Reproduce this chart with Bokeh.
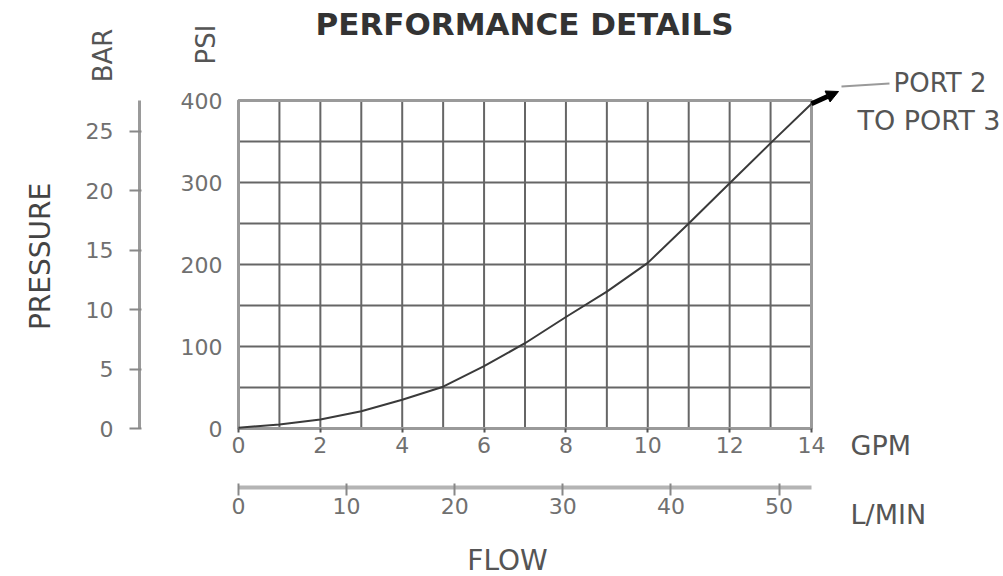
import math
from bokeh.plotting import figure
from bokeh.models import (LinearAxis, Range1d, Label, FixedTicker, Arrow, NormalHead)
from bokeh.embed import file_html
from bokeh.resources import INLINE

# ---------------- data ----------------
gpm = [0, 1, 2, 3, 4, 5, 6, 7, 8, 9, 10, 11, 12, 13, 14]
psi = [1, 5, 11, 21, 35, 51, 76, 104, 136, 167, 202, 250, 299, 348, 396]

gpm_ticks = [0, 2, 4, 6, 8, 10, 12, 14]
psi_ticks = [0, 100, 200, 300, 400]
bar_ticks = [0, 5, 10, 15, 20, 25]
lmin_ticks = [0, 10, 20, 30, 40, 50]
grid_gpm = [0, 1, 2, 3, 4, 5, 6, 7, 8, 9, 10, 11, 12, 13, 14]
grid_psi = [0, 50, 100, 150, 200, 250, 300, 350, 400]

PSI_PER_BAR = 14.5038
LMIN_PER_GPM = 3.78541
GPM_MAX = 14
PSI_MAX = 400

# ---------------- layout ----------------
W, H = 1003, 576
FL, FR, FT, FB = 238, 811, 100, 428   # chart area edges in canvas pixels
FONT = "DejaVu Sans"


def gx(px):
    """canvas pixel x -> GPM"""
    return (px - FL) / (FR - FL) * GPM_MAX


def gy(py):
    """canvas pixel y -> PSI"""
    return (FB - py) / (FB - FT) * PSI_MAX


x0, x1 = gx(0), gx(W)
y0, y1 = gy(H), gy(0)

p = figure(width=W, height=H, output_backend="svg", toolbar_location=None,
           x_range=Range1d(x0, x1), y_range=Range1d(y0, y1),
           x_axis_location=None, y_axis_location=None,
           min_border=0, min_border_left=0, min_border_right=0,
           min_border_top=0, min_border_bottom=0,
           background_fill_color="white", border_fill_color="white")
p.outline_line_color = None
p.grid.visible = False

p.extra_y_ranges = {"bar": Range1d(y0 / PSI_PER_BAR, y1 / PSI_PER_BAR)}
p.extra_x_ranges = {"lmin": Range1d(x0 * LMIN_PER_GPM, x1 * LMIN_PER_GPM)}

# ---------------- grid ----------------
p.segment(x0=grid_gpm, y0=[0] * len(grid_gpm), x1=grid_gpm, y1=[PSI_MAX] * len(grid_gpm),
          line_color="#666666", line_width=2)
p.segment(x0=[0] * len(grid_psi), y0=grid_psi, x1=[GPM_MAX] * len(grid_psi), y1=grid_psi,
          line_color="#666666", line_width=2)
p.quad(left=[0], right=[GPM_MAX], bottom=[0], top=[PSI_MAX],
       fill_color=None, line_color="#9a9a9a", line_width=3)

# ---------------- axes ----------------
def style_labels(ax):
    ax.major_label_text_font = FONT
    ax.major_label_text_font_size = "22px"
    ax.major_label_text_color = "#707070"
    ax.minor_tick_line_color = None


# PSI axis
ya = LinearAxis(ticker=FixedTicker(ticks=psi_ticks), fixed_location=0, bounds=(0, PSI_MAX))
style_labels(ya)
ya.axis_line_color = None
ya.major_tick_line_color = None
ya.major_tick_out = 0
ya.major_tick_in = 0
ya.major_label_standoff = 16
p.add_layout(ya, "left")

# BAR axis
ba = LinearAxis(y_range_name="bar", ticker=FixedTicker(ticks=bar_ticks),
                fixed_location=gx(139), bounds=(0, PSI_MAX / PSI_PER_BAR))
style_labels(ba)
ba.axis_line_color = "#9a9a9a"
ba.axis_line_width = 3
ba.major_tick_line_color = "#888888"
ba.major_tick_line_width = 2
ba.major_tick_out = 10
ba.major_tick_in = 2
ba.major_label_standoff = 16
p.add_layout(ba, "left")

# GPM axis
xa = LinearAxis(ticker=FixedTicker(ticks=gpm_ticks), fixed_location=0, bounds=(0, GPM_MAX))
style_labels(xa)
xa.axis_line_color = None
xa.major_tick_line_color = "#555555"
xa.major_tick_line_width = 2
xa.major_tick_out = 4
xa.major_tick_in = 0
xa.major_label_standoff = 4
p.add_layout(xa, "below")

# L/MIN axis
la = LinearAxis(x_range_name="lmin", ticker=FixedTicker(ticks=lmin_ticks),
                fixed_location=gy(487), bounds=(0, GPM_MAX * LMIN_PER_GPM))
style_labels(la)
la.axis_line_color = "#b4b4b4"
la.axis_line_width = 4
la.major_tick_line_color = "#888888"
la.major_tick_line_width = 2
la.major_tick_out = 8
la.major_tick_in = 4
la.major_label_standoff = 2
p.add_layout(la, "below")

# ---------------- curve ----------------
p.line(gpm, psi, line_color="#3a3a3a", line_width=2)

p.add_layout(Arrow(x_start=gpm[-1], y_start=psi[-1], x_end=gx(838), y_end=gy(91),
                   line_color="black", line_width=5,
                   end=NormalHead(size=12, fill_color="black", line_color="black")))
p.add_layout(Arrow(x_start=gx(841), y_start=gy(86), x_end=gx(889), y_end=gy(83),
                   line_color="#9a9a9a", line_width=2, end=None))

# ---------------- texts ----------------
def lab(text, px, py, size, color="#555555", align="left", angle=0.0, style="normal"):
    p.add_layout(Label(x=gx(px), y=gy(py), text=text, text_font=FONT,
                       text_font_size=size, text_color=color, text_align=align,
                       text_baseline="middle", angle=angle, text_font_style=style))


lab("PERFORMANCE DETAILS", 524, 23, "31px", color="#333333", align="center", style="bold")
lab("BAR", 102, 55, "26px", align="center", angle=math.pi / 2)
lab("PSI", 205, 44, "26px", align="center", angle=math.pi / 2)
lab("PRESSURE", 40, 256, "28px", color="#444444", align="center", angle=math.pi / 2)
lab("GPM", 850, 445, "27px")
lab("L/MIN", 850, 514, "27px")
lab("FLOW", 507, 560, "28px", align="center")
lab("PORT 2", 893, 82, "26px")
lab("TO PORT 3", 857, 120, "27px")

open("out.html", "w").write(file_html(p, INLINE))
